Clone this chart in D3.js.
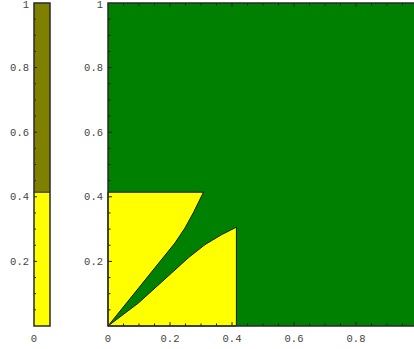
<!DOCTYPE html>
<html>
<head>
<meta charset="utf-8">
<script src="https://cdn.jsdelivr.net/npm/d3@7"></script>
<style>
  html, body { margin: 0; padding: 0; background: #fff; }
  svg { display: block; }
  text { font-family: "Liberation Mono", "DejaVu Sans Mono", monospace; font-size: 10.5px; fill: #444; }
</style>
</head>
<body>
<svg id="chart" width="414" height="349"></svg>
<script>
// ---- data ----
const threshold = 0.4142;
const xTickValues = [0, 0.2, 0.4, 0.6, 0.8];
const xTickLabels = ["0", "0.2", "0.4", "0.6", "0.8"];
const yTickValues = [0.2, 0.4, 0.6, 0.8, 1];
const yTickLabels = ["0.2", "0.4", "0.6", "0.8", "1"];
const minorStep = 0.05;
// boundary of the upper yellow piece (from origin to top edge of the square)
const upperCurve = [[0, 0], [0.1, 0.119], [0.216, 0.257], [0.248, 0.303], [0.275, 0.35], [0.308, 0.4142]];
// boundary of the lower yellow piece (from origin to right edge of the square)
const lowerCurve = [[0, 0], [0.098, 0.071], [0.152, 0.118], [0.205, 0.164], [0.259, 0.211], [0.313, 0.252], [0.367, 0.283], [0.4142, 0.306]];
const barSegments = [
  { from: 0, to: 0.4142, color: "#ffff00" },
  { from: 0.4142, to: 1, color: "#808000" }
];

// ---- layout ----
const svg = d3.select("#chart");
const x = d3.scaleLinear().domain([0, 1]).range([108, 418]);
const y = d3.scaleLinear().domain([0, 1]).range([326, 3]);
const barX0 = 34, barX1 = 50;

const minorTicks = d3.range(0, 1.0001, minorStep).map(v => +v.toFixed(3));
const isMajor = v => Math.abs(v * 5 - Math.round(v * 5)) < 1e-6;
// keep the top label inside the picture
const labelY = d => Math.max(y(d), 4.5);

// ---- legend bar ----
const gBar = svg.append("g");
gBar.selectAll("rect.seg").data(barSegments).join("rect")
  .attr("x", barX0).attr("width", barX1 - barX0)
  .attr("y", d => y(d.to)).attr("height", d => y(d.from) - y(d.to))
  .attr("fill", d => d.color);
gBar.append("line")
  .attr("x1", barX0).attr("x2", barX1)
  .attr("y1", y(threshold)).attr("y2", y(threshold))
  .attr("stroke", "#222").attr("stroke-width", 1);
gBar.selectAll("line.tk").data(minorTicks.filter(v => v > 0 && v < 1)).join("line")
  .attr("x1", barX0).attr("x2", d => barX0 + (isMajor(d) ? 3 : 2))
  .attr("y1", d => y(d)).attr("y2", d => y(d))
  .attr("stroke", "#222").attr("stroke-width", 1);
gBar.append("rect")
  .attr("x", barX0).attr("y", y(1)).attr("width", barX1 - barX0).attr("height", y(0) - y(1))
  .attr("fill", "none").attr("stroke", "#2a2a2a").attr("stroke-width", 1.5);
gBar.selectAll("text.yl").data(yTickValues).join("text")
  .attr("x", 29).attr("y", d => labelY(d)).attr("dy", "0.35em")
  .attr("text-anchor", "end")
  .text((d, i) => yTickLabels[i]);
gBar.append("text").attr("x", barX0).attr("y", 338).attr("dy", "0.35em")
  .attr("text-anchor", "middle").text("0");

// ---- main plot ----
const g = svg.append("g");
g.append("rect")
  .attr("x", x(0)).attr("y", y(1)).attr("width", x(1) - x(0)).attr("height", y(0) - y(1))
  .attr("fill", "#008000");

const line = d3.line().x(d => x(d[0])).y(d => y(d[1]));
const upperPoly = upperCurve.concat([[0, threshold]]);
const lowerPoly = lowerCurve.concat([[threshold, 0]]);
g.selectAll("path.region").data([upperPoly, lowerPoly]).join("path")
  .attr("d", d => line(d) + "Z")
  .attr("fill", "#ffff00")
  .attr("stroke", "#1a1a1a").attr("stroke-width", 1)
  .attr("stroke-linejoin", "round");

// ticks: left edge & bottom edge & top edge (inside)
g.selectAll("line.ly").data(minorTicks.filter(v => v > 0 && v < 1)).join("line")
  .attr("x1", x(0)).attr("x2", d => x(0) + (isMajor(d) ? 4 : 2.5))
  .attr("y1", d => y(d)).attr("y2", d => y(d))
  .attr("stroke", "#222").attr("stroke-width", 1);
g.selectAll("line.bx").data(minorTicks.filter(v => v > 0 && v < 1)).join("line")
  .attr("x1", d => x(d)).attr("x2", d => x(d))
  .attr("y1", y(0)).attr("y2", d => y(0) - (isMajor(d) ? 4 : 2.5))
  .attr("stroke", "#222").attr("stroke-width", 1);
g.selectAll("line.tx").data(minorTicks.filter(v => v > 0 && v < 1)).join("line")
  .attr("x1", d => x(d)).attr("x2", d => x(d))
  .attr("y1", y(1)).attr("y2", d => y(1) + (isMajor(d) ? 4 : 2.5))
  .attr("stroke", "#222").attr("stroke-width", 1);

g.append("rect")
  .attr("x", x(0)).attr("y", y(1)).attr("width", x(1) - x(0)).attr("height", y(0) - y(1))
  .attr("fill", "none").attr("stroke", "#2a2a2a").attr("stroke-width", 1.5);

g.selectAll("text.yl").data(yTickValues).join("text")
  .attr("x", 103).attr("y", d => labelY(d)).attr("dy", "0.35em")
  .attr("text-anchor", "end")
  .text((d, i) => yTickLabels[i]);
g.selectAll("text.xl").data(xTickValues).join("text")
  .attr("x", d => x(d)).attr("y", 338).attr("dy", "0.35em")
  .attr("text-anchor", "middle")
  .text((d, i) => xTickLabels[i]);
</script>
</body>
</html>
